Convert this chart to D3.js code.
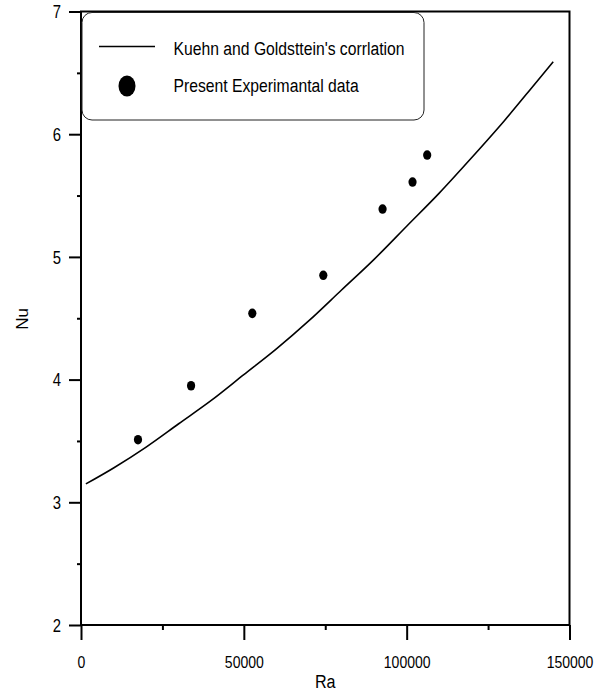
<!DOCTYPE html>
<html>
<head>
<meta charset="utf-8">
<script src="https://cdn.jsdelivr.net/npm/d3@7"></script>
<style>
  html, body { margin: 0; padding: 0; background: #fff; }
  svg { display: block; }
  text { font-family: "Liberation Sans", Arial, Helvetica, sans-serif; fill: #000; }
</style>
</head>
<body>
<svg id="chart" width="608" height="697"></svg>
<script>
// Axis ticks
const raTicks = [0, 50000, 100000, 150000];
const raMinorTicks = [25000, 75000, 125000];
const nuTicks = [2, 3, 4, 5, 6, 7];
const nuMinorTicks = [2.5, 3.5, 4.5, 5.5, 6.5];

// Measured data (Ra, Nu)
const expRa = [17500, 33800, 52600, 74400, 92600, 101800, 106300];
const expNu = [3.51, 3.95, 4.54, 4.85, 5.39, 5.61, 5.83];

// Kuehn and Goldstein correlation curve
const corrRa = [1500, 10000, 20000, 30000, 40000, 50000, 60000, 70000, 80000,
                90000, 100000, 110000, 120000, 130000, 140000, 145000];
const corrNu = [3.15, 3.28, 3.45, 3.64, 3.83, 4.04, 4.25, 4.48, 4.73,
                4.98, 5.25, 5.52, 5.81, 6.11, 6.43, 6.59];

const legendLabels = ["Kuehn and Goldsttein's corrlation", "Present Experimantal data"];

const svg = d3.select("#chart");
const plot = { left: 81, right: 569.5, top: 11.5, bottom: 625 };
const squeeze = 0.85; // horizontal text compression

const x = d3.scaleLinear().domain([0, 150000]).range([plot.left, plot.right]);
const y = d3.scaleLinear().domain([2, 7]).range([plot.bottom, plot.top]);

// Frame
svg.append("rect")
  .attr("x", plot.left).attr("y", plot.top)
  .attr("width", plot.right - plot.left).attr("height", plot.bottom - plot.top)
  .attr("fill", "none").attr("stroke", "#000").attr("stroke-width", 2);

// Bottom axis: major and minor ticks
const xAxis = svg.append("g").attr("transform", `translate(0,${plot.bottom})`)
  .call(d3.axisBottom(x).tickValues(raTicks).tickSize(15).tickFormat(d3.format("d")));
xAxis.call(g => g.select(".domain").remove());
xAxis.selectAll(".tick line").attr("stroke-width", 2);
xAxis.selectAll(".tick text")
  .attr("y", 0).attr("dy", 0)
  .attr("font-size", 16.5)
  .attr("transform", `translate(0,43) scale(${squeeze},1)`);

const xMinor = svg.append("g").attr("transform", `translate(0,${plot.bottom})`)
  .call(d3.axisBottom(x).tickValues(raMinorTicks).tickSize(5).tickFormat(""));
xMinor.call(g => g.select(".domain").remove());
xMinor.selectAll(".tick line").attr("stroke-width", 2);

// Left axis: major and minor ticks
const yAxis = svg.append("g").attr("transform", `translate(${plot.left},0)`)
  .call(d3.axisLeft(y).tickValues(nuTicks).tickSize(12).tickFormat(d3.format("d")));
yAxis.call(g => g.select(".domain").remove());
yAxis.selectAll(".tick line").attr("stroke-width", 2);
yAxis.selectAll(".tick text")
  .attr("x", 0).attr("dy", "0.36em")
  .attr("font-size", 17.5)
  .attr("transform", `translate(-20,0) scale(${squeeze},1)`);

const yMinor = svg.append("g").attr("transform", `translate(${plot.left},0)`)
  .call(d3.axisLeft(y).tickValues(nuMinorTicks).tickSize(4).tickFormat(""));
yMinor.call(g => g.select(".domain").remove());
yMinor.selectAll(".tick line").attr("stroke-width", 2);

// Axis titles
svg.append("text")
  .attr("transform", `translate(${(plot.left + plot.right) / 2},688) scale(${squeeze},1)`)
  .attr("text-anchor", "middle").attr("font-size", 19)
  .text("Ra");
svg.append("text")
  .attr("transform", "translate(28,319) rotate(-90)")
  .attr("text-anchor", "middle").attr("font-size", 17)
  .text("Nu");

// Correlation curve
const line = d3.line()
  .x((d, i) => x(corrRa[i]))
  .y((d, i) => y(corrNu[i]))
  .curve(d3.curveMonotoneX);
svg.append("path")
  .datum(corrRa)
  .attr("d", line)
  .attr("fill", "none").attr("stroke", "#000").attr("stroke-width", 1.6);

// Experimental points
svg.append("g").selectAll("ellipse")
  .data(expRa)
  .join("ellipse")
  .attr("cx", (d, i) => x(expRa[i]))
  .attr("cy", (d, i) => y(expNu[i]))
  .attr("rx", 4.1).attr("ry", 4.8)
  .attr("fill", "#000");

// Legend
const legend = svg.append("g");
legend.append("rect")
  .attr("x", 82).attr("y", 12.5).attr("width", 342).attr("height", 107.5)
  .attr("rx", 10).attr("ry", 10)
  .attr("fill", "#fff").attr("stroke", "#222").attr("stroke-width", 1);
legend.append("line")
  .attr("x1", 99).attr("x2", 155).attr("y1", 46.5).attr("y2", 46.5)
  .attr("stroke", "#000").attr("stroke-width", 1.6);
legend.append("ellipse")
  .attr("cx", 127).attr("cy", 86).attr("rx", 8.5).attr("ry", 10.5)
  .attr("fill", "#000");
legend.selectAll("text.lab")
  .data(legendLabels)
  .join("text")
  .attr("class", "lab")
  .attr("font-size", 18.5)
  .attr("transform", (d, i) => `translate(173.5,${i === 0 ? 54.5 : 91.5}) scale(${squeeze},1)`)
  .text(d => d);
</script>
</body>
</html>
